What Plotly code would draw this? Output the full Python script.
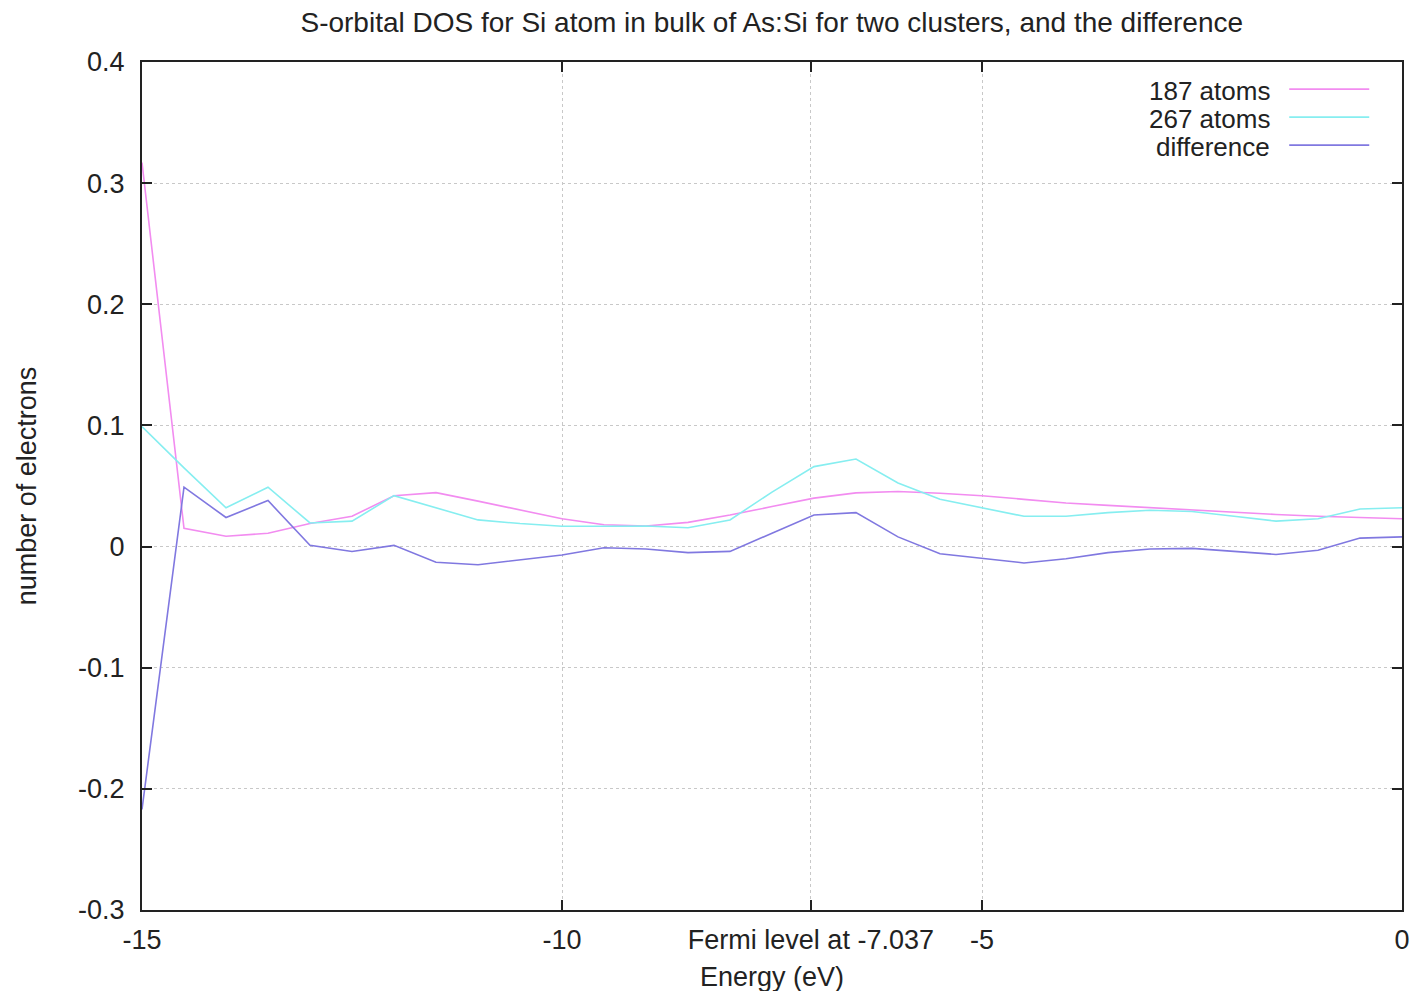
import plotly.graph_objects as go

energy = [-15, -14.5, -14, -13.5, -13, -12.5, -12, -11.5, -11, -10.5, -10,
          -9.5, -9, -8.5, -8, -7.5, -7, -6.5, -6, -5.5, -5,
          -4.5, -4, -3.5, -3, -2.5, -2, -1.5, -1, -0.5, 0]

atoms_187 = [0.317, 0.015, 0.0085, 0.011, 0.019, 0.025, 0.042, 0.0445, 0.0375, 0.030, 0.023,
             0.018, 0.017, 0.020, 0.026, 0.033, 0.040, 0.0443, 0.0455, 0.044, 0.042,
             0.039, 0.036, 0.034, 0.032, 0.030, 0.028, 0.0265, 0.025, 0.024, 0.023]

atoms_267 = [0.099, 0.065, 0.032, 0.049, 0.0195, 0.021, 0.042, 0.032, 0.022, 0.019, 0.0168,
             0.0168, 0.017, 0.0155, 0.022, 0.045, 0.066, 0.0723, 0.0525, 0.039, 0.032,
             0.025, 0.025, 0.028, 0.030, 0.029, 0.025, 0.021, 0.023, 0.031, 0.032]

difference = [-0.217, 0.049, 0.024, 0.038, 0.001, -0.004, 0.001, -0.013, -0.015, -0.011, -0.007,
              -0.001, -0.002, -0.005, -0.004, 0.011, 0.026, 0.028, 0.008, -0.006, -0.010,
              -0.0135, -0.010, -0.005, -0.002, -0.0015, -0.004, -0.0065, -0.003, 0.007, 0.008]

series_names = ["187 atoms", "267 atoms", "difference"]
series_colors = ["#f28cf0", "#86eef0", "#8078e0"]

x_tickvals = [-15, -10, -7.037, -5, 0]
x_ticktext = ["-15", "-10", "Fermi level at -7.037", "-5", "0"]
y_tickvals = [-0.3, -0.2, -0.1, 0, 0.1, 0.2, 0.3, 0.4]
y_ticktext = ["-0.3", "-0.2", "-0.1", "0", "0.1", "0.2", "0.3", "0.4"]

FONT = "Liberation Sans, Arial, Helvetica, sans-serif"
FS = 27

fig = go.Figure()
for name, ys, col in zip(series_names, [atoms_187, atoms_267, difference], series_colors):
    fig.add_trace(go.Scatter(x=energy, y=ys, mode="lines", name=name,
                             line=dict(color=col, width=1.6), showlegend=False))

# custom legend (text right-aligned, sample line on the right, gnuplot style)
legend_rows_y = [0.966, 0.933, 0.900]
for name, col, yy in zip(series_names, series_colors, legend_rows_y):
    fig.add_annotation(xref="paper", yref="paper", x=0.897, y=yy, text=name,
                       showarrow=False, xanchor="right", yanchor="middle",
                       font=dict(family=FONT, size=26, color="#222"))
    fig.add_shape(type="line", xref="paper", yref="paper", x0=0.9105, x1=0.974,
                  y0=yy + 0.002, y1=yy + 0.002, line=dict(color=col, width=1.6))

# x-axis title placed as annotation for exact positioning
fig.add_annotation(xref="paper", yref="paper", x=0.5, y=-0.079, text="Energy (eV)",
                   showarrow=False, xanchor="center", yanchor="middle",
                   font=dict(family=FONT, size=FS, color="#222"))

fig.update_layout(
    width=1404, height=983,
    margin=dict(l=134, r=10, t=54, b=81, autoexpand=False),
    paper_bgcolor="white", plot_bgcolor="white",
    title=dict(text="S-orbital DOS for Si atom in bulk of As:Si for two clusters, and the difference",
               x=0.544, xanchor="center", y=0.986, yanchor="middle",
               font=dict(family=FONT, size=28, color="#222")),
    font=dict(family=FONT, size=FS, color="#222"),
)

fig.update_xaxes(range=[-15, 0], tickvals=x_tickvals, ticktext=x_ticktext,
                 showline=True, linecolor="#222", linewidth=2, mirror="ticks",
                 ticks="inside", ticklen=10, tickwidth=2, tickcolor="#222",
                 ticklabelstandoff=5, automargin=False,
                 showgrid=True, gridcolor="#c8c8c8", griddash="dot", gridwidth=1,
                 zeroline=False,
                 tickfont=dict(family=FONT, size=FS))

fig.update_yaxes(range=[-0.3, 0.4], tickvals=y_tickvals, ticktext=y_ticktext,
                 showline=True, linecolor="#222", linewidth=2, mirror="ticks",
                 ticks="inside", ticklen=10, tickwidth=2, tickcolor="#222",
                 ticklabelstandoff=10, automargin=False,
                 showgrid=True, gridcolor="#c8c8c8", griddash="dot", gridwidth=1,
                 zeroline=False,
                 title=dict(text="number of electrons", standoff=34, font=dict(family=FONT, size=FS)),
                 tickfont=dict(family=FONT, size=FS))

fig.write_html("out.html")
